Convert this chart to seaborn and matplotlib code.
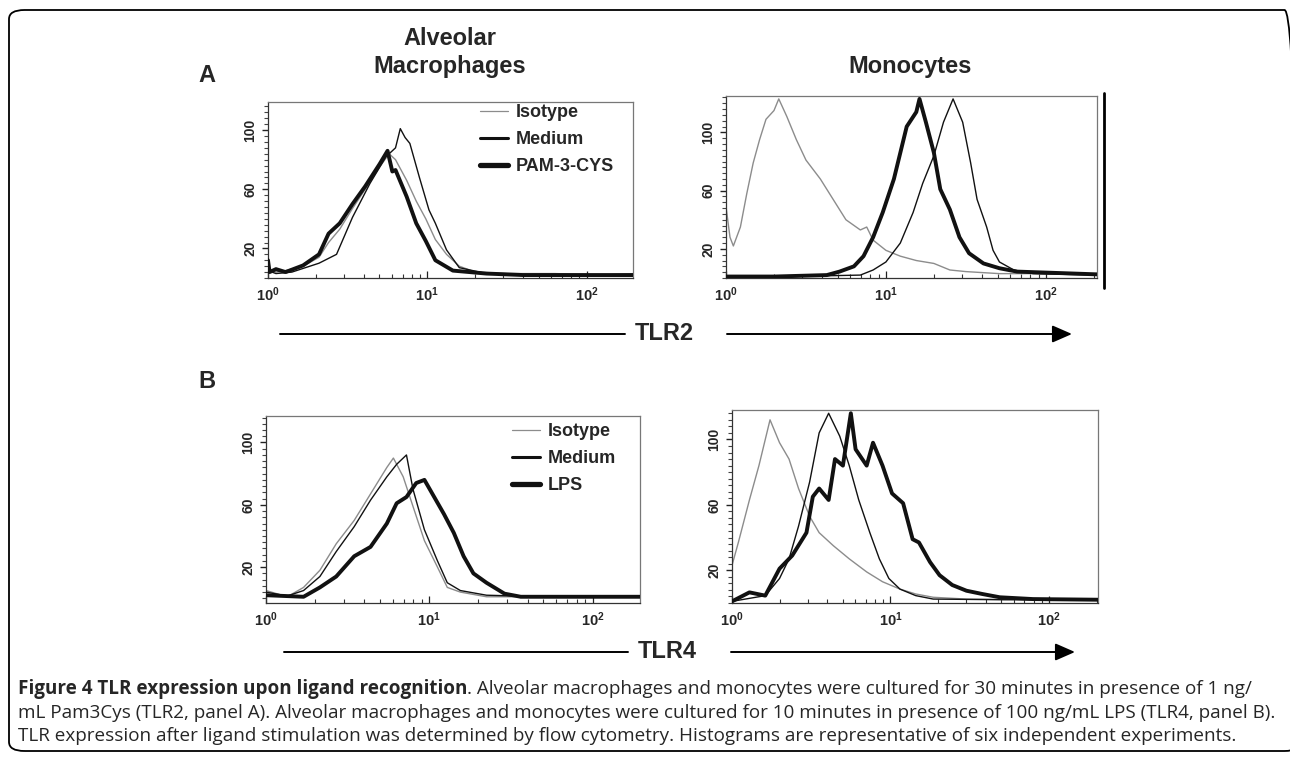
import numpy as np
import matplotlib
matplotlib.use("Agg")
import matplotlib.pyplot as plt
import seaborn as sns
from matplotlib.lines import Line2D
from matplotlib.patches import FancyBboxPatch, FancyArrowPatch, ArrowStyle
from matplotlib.ticker import FixedLocator, MultipleLocator, LogLocator, NullFormatter, FixedFormatter

# ---------------- data (log10 fluorescence, % of max counts) ----------------
# Panel A, alveolar macrophages (TLR2)
a_am_iso_logx = [0.00, 0.05, 0.11, 0.22, 0.32, 0.38, 0.45, 0.53, 0.61, 0.70, 0.76, 0.80, 0.87, 0.93, 0.99, 1.05, 1.12, 1.20, 1.30, 1.50, 1.80, 2.10, 2.30]
a_am_iso_val  = [6, 4, 5, 8, 14, 24, 33, 47, 60, 75, 84, 80, 66, 52, 40, 26, 16, 8, 4, 3, 3, 2, 3]
a_am_med_logx = [0.00, 0.05, 0.15, 0.32, 0.43, 0.53, 0.64, 0.74, 0.80, 0.83, 0.86, 0.89, 0.95, 1.01, 1.05, 1.12, 1.20, 1.37, 1.60, 1.90, 2.30]
a_am_med_val  = [5, 3, 4, 10, 16, 41, 64, 82, 88, 101, 95, 91, 68, 46, 37, 19, 7, 3, 2, 2, 2]
a_am_pam_logx = [0.00, 0.01, 0.05, 0.11, 0.22, 0.32, 0.38, 0.45, 0.53, 0.61, 0.70, 0.75, 0.78, 0.80, 0.87, 0.93, 0.99, 1.05, 1.16, 1.37, 1.60, 1.90, 2.30]
a_am_pam_val  = [12, 4, 6, 4, 8.5, 16, 30, 37, 50, 62, 77, 86, 72, 73, 55, 37, 25, 12, 5, 3, 2, 2, 2]

# Panel A, monocytes (TLR2)
a_mo_iso_logx = [0.00, 0.025, 0.046, 0.09, 0.13, 0.17, 0.21, 0.25, 0.30, 0.33, 0.38, 0.44, 0.50, 0.59, 0.67, 0.75, 0.84, 0.88, 0.92, 1.00, 1.09, 1.19, 1.30, 1.40, 1.50, 1.71, 2.00, 2.32]
a_mo_iso_val  = [49, 28, 22, 35, 58, 79, 95, 109, 115, 123, 111, 95, 81, 68, 54, 40, 33, 35, 26, 19, 15, 12, 10, 5.5, 4.4, 3, 3, 3]
a_mo_med_logx = [0.00, 0.40, 0.84, 0.92, 1.00, 1.09, 1.17, 1.23, 1.30, 1.36, 1.42, 1.48, 1.53, 1.57, 1.63, 1.67, 1.71, 1.80, 1.92, 2.32]
a_mo_med_val  = [1, 1, 2, 5.5, 11, 24, 45, 65, 84, 107, 123, 107, 79, 54, 35, 19, 11, 5.5, 3, 2]
a_mo_pam_logx = [0.00, 0.30, 0.63, 0.71, 0.80, 0.86, 0.92, 0.98, 1.05, 1.09, 1.13, 1.19, 1.21, 1.25, 1.30, 1.34, 1.40, 1.46, 1.52, 1.61, 1.71, 1.82, 2.32]
a_mo_pam_val  = [1, 1, 2, 4.4, 8, 15, 28, 45, 68, 86, 104, 114, 123, 107, 86, 61, 47, 28, 17, 10, 6.7, 4.4, 2.5]

# Panel B, alveolar macrophages (TLR4)
b_am_iso_logx = [0.00, 0.13, 0.23, 0.33, 0.43, 0.54, 0.64, 0.74, 0.78, 0.84, 0.90, 0.97, 1.05, 1.11, 1.19, 1.35, 1.70, 2.29]
b_am_iso_val  = [5, 1, 7, 18, 35, 50, 67, 84, 90, 78, 59, 37, 20, 7, 4, 1, 1, 1]
b_am_med_logx = [0.00, 0.13, 0.23, 0.33, 0.43, 0.54, 0.64, 0.74, 0.80, 0.86, 0.90, 0.97, 1.05, 1.11, 1.19, 1.35, 1.70, 2.29]
b_am_med_val  = [4, 1.5, 5, 14, 30, 46, 63, 78, 86, 92, 70, 44, 24, 10, 5, 2, 1, 1]
b_am_lps_logx = [0.00, 0.23, 0.33, 0.43, 0.54, 0.64, 0.74, 0.80, 0.86, 0.92, 0.97, 1.03, 1.09, 1.15, 1.21, 1.27, 1.35, 1.46, 1.56, 1.90, 2.29]
b_am_lps_val  = [2, 1, 7, 14, 27, 33, 48, 61, 65, 74, 76, 65, 54, 42, 27, 16, 10, 3, 1, 1, 1]

# Panel B, monocytes (TLR4)
b_mo_iso_logx = [0.00, 0.04, 0.11, 0.17, 0.21, 0.24, 0.30, 0.36, 0.42, 0.49, 0.55, 0.64, 0.74, 0.85, 0.95, 1.06, 1.16, 1.27, 1.48, 1.90, 2.31]
b_mo_iso_val  = [23, 37, 63, 84, 100, 112, 98, 88, 70, 53, 43, 35, 27, 19, 13, 8.5, 5.5, 3.5, 2.4, 2, 2]
b_mo_med_logx = [0.00, 0.21, 0.30, 0.36, 0.42, 0.49, 0.55, 0.61, 0.68, 0.74, 0.80, 0.87, 0.93, 0.99, 1.06, 1.16, 1.27, 1.70, 2.31]
b_mo_med_val  = [1, 4.5, 15, 27, 47, 74, 104, 116, 102, 84, 63, 43, 27, 15, 8.5, 4.5, 2.4, 2, 2]
b_mo_lps_logx = [0.00, 0.11, 0.21, 0.30, 0.38, 0.47, 0.51, 0.55, 0.61, 0.65, 0.70, 0.75, 0.78, 0.85, 0.89, 0.95, 1.01, 1.08, 1.14, 1.18, 1.25, 1.31, 1.39, 1.48, 1.58, 1.69, 1.90, 2.31]
b_mo_lps_val  = [1, 6.5, 4.5, 21, 29, 43, 65, 70, 63, 88, 84, 116, 94, 84, 98, 84, 67, 61, 39, 37, 25, 17, 11, 7.5, 5.5, 3.5, 2.4, 2]

panel_titles = ["Alveolar\nMacrophages", "Monocytes"]
legend_a = ["Isotype", "Medium", "PAM-3-CYS"]
legend_b = ["Isotype", "Medium", "LPS"]
y_tick_values = [20, 60, 100]
x_tick_values = [1, 10, 100]
x_tick_labels = [r"$\mathbf{10^{0}}$", r"$\mathbf{10^{1}}$", r"$\mathbf{10^{2}}$"]
caption_bold = "Figure 4 TLR expression upon ligand recognition"
caption_line1 = ". Alveolar macrophages and monocytes were cultured for 30 minutes in presence of 1 ng/"
caption_line2 = "mL Pam3Cys (TLR2, panel A). Alveolar macrophages and monocytes were cultured for 10 minutes in presence of 100 ng/mL LPS (TLR4, panel B)."
caption_line3 = "TLR expression after ligand stimulation was determined by flow cytometry. Histograms are representative of six independent experiments."

# ---------------- style ----------------
sns.set_theme(style="white")
plt.rcParams["font.family"] = ["Liberation Sans", "DejaVu Sans"]
plt.rcParams["mathtext.fontset"] = "custom"
plt.rcParams["mathtext.rm"] = "Liberation Sans"
plt.rcParams["mathtext.bf"] = "Liberation Sans:bold"
plt.rcParams["xtick.bottom"] = True
plt.rcParams["ytick.left"] = True

W, H = 1290, 759
fig = plt.figure(figsize=(W / 100, H / 100), dpi=100)
fig.patch.set_facecolor("white")

def fx(x):
    return x / W

def fy(y):
    return 1 - y / H

def axes_at(x0, y0, x1, y1):
    return fig.add_axes([fx(x0), fy(y1), fx(x1 - x0), (y1 - y0) / H])

ISO = "#8c8c8c"
BLK = "#111111"

def style_axes(ax, xmax_log, ylim):
    ax.set_xscale("log")
    ax.set_xlim(1, 10 ** xmax_log)
    ax.set_ylim(*ylim)
    for s in ax.spines.values():
        s.set_color("#777777")
        s.set_linewidth(0.9)
    ax.spines["left"].set_color("#333333")
    ax.spines["bottom"].set_color("#333333")
    ax.xaxis.set_major_locator(FixedLocator(x_tick_values))
    ax.xaxis.set_major_formatter(FixedFormatter(x_tick_labels))
    ax.xaxis.set_minor_locator(LogLocator(base=10, subs=np.arange(2, 10)))
    ax.xaxis.set_minor_formatter(NullFormatter())
    ax.yaxis.set_major_locator(FixedLocator(y_tick_values))
    ax.yaxis.set_minor_locator(MultipleLocator(4))
    ax.tick_params(axis="x", which="major", direction="in", length=5, width=0.9,
                   color="#222222", labelsize=10.5, pad=5, bottom=True)
    ax.tick_params(axis="x", which="minor", direction="in", length=3, width=0.8,
                   color="#333333", bottom=True)
    ax.tick_params(axis="y", which="major", direction="out", length=4.5, width=1.0,
                   color="#222222", labelsize=10, pad=3, left=True)
    ax.tick_params(axis="y", which="minor", direction="out", length=3, width=0.8,
                   color="#444444", left=True)
    for lab in ax.get_yticklabels():
        lab.set_rotation(90)
        lab.set_va("center")
        lab.set_fontweight("bold")
    for lab in ax.get_xticklabels():
        lab.set_fontweight("bold")
    ax.set_xlabel("")
    ax.set_ylabel("")
    ax.grid(False)

def draw(ax, logx, val, color, lw, z):
    sns.lineplot(x=10 ** np.asarray(logx, dtype=float), y=np.asarray(val, dtype=float),
                 ax=ax, color=color, linewidth=lw, zorder=z, estimator=None, sort=True)

# Panel A
ax_a1 = axes_at(268, 102, 633, 278)
draw(ax_a1, a_am_iso_logx, a_am_iso_val, ISO, 1.0, 2)
draw(ax_a1, a_am_med_logx, a_am_med_val, BLK, 1.0, 3)
draw(ax_a1, a_am_pam_logx, a_am_pam_val, BLK, 2.8, 4)
style_axes(ax_a1, 2.29, (0, 119))

ax_a2 = axes_at(726, 96, 1097, 278)
draw(ax_a2, a_mo_iso_logx, a_mo_iso_val, ISO, 1.0, 2)
draw(ax_a2, a_mo_med_logx, a_mo_med_val, BLK, 1.0, 3)
draw(ax_a2, a_mo_pam_logx, a_mo_pam_val, BLK, 2.8, 4)
style_axes(ax_a2, 2.32, (0, 125))

# Panel B
ax_b1 = axes_at(266, 416, 640, 603)
draw(ax_b1, b_am_iso_logx, b_am_iso_val, ISO, 1.0, 2)
draw(ax_b1, b_am_med_logx, b_am_med_val, BLK, 1.0, 3)
draw(ax_b1, b_am_lps_logx, b_am_lps_val, BLK, 2.8, 4)
style_axes(ax_b1, 2.29, (-3, 117))

ax_b2 = axes_at(732, 410, 1098, 603)
draw(ax_b2, b_mo_iso_logx, b_mo_iso_val, ISO, 1.0, 2)
draw(ax_b2, b_mo_med_logx, b_mo_med_val, BLK, 1.0, 3)
draw(ax_b2, b_mo_lps_logx, b_mo_lps_val, BLK, 2.8, 4)
style_axes(ax_b2, 2.31, (0, 118))

# Legends
def make_legend(ax, labels, x_frac, y_frac):
    handles = [Line2D([], [], color=ISO, lw=0.9),
               Line2D([], [], color=BLK, lw=2.2),
               Line2D([], [], color=BLK, lw=3.8)]
    return ax.legend(handles, labels, loc="upper left", bbox_to_anchor=(x_frac, y_frac),
                     frameon=False, handlelength=1.55, handletextpad=0.45,
                     labelspacing=0.55, borderpad=0, borderaxespad=0,
                     prop={"family": "Liberation Sans", "weight": "bold", "size": 13})

make_legend(ax_a1, legend_a, (480 - 268) / 365, 1 - (104 - 102) / 176)
make_legend(ax_b1, legend_b, (512 - 266) / 374, 1 - (423 - 416) / 187)

# Titles and panel letters
title_lines = panel_titles[0].split("\n")
fig.text(fx(450), fy(45), title_lines[0], ha="center", va="baseline", fontsize=17, fontweight="bold")
fig.text(fx(450), fy(73), title_lines[1], ha="center", va="baseline", fontsize=17, fontweight="bold")
fig.text(fx(910), fy(73), panel_titles[1], ha="center", va="baseline", fontsize=17, fontweight="bold")
fig.text(fx(207), fy(75), "A", ha="center", va="center", fontsize=17, fontweight="bold")
fig.text(fx(207), fy(381), "B", ha="center", va="center", fontsize=17, fontweight="bold")

# Axis arrows
def axis_arrow(label, y, x0, x1, xt0, xt1):
    fig.add_artist(Line2D([fx(x0), fx(x1)], [fy(y), fy(y)], color="black", lw=1.4,
                          transform=fig.transFigure))
    fig.text(fx(x1 + 10), fy(y), label, ha="left", va="center", fontsize=17, fontweight="bold")
    arr = FancyArrowPatch((fx(xt0), fy(y)), (fx(xt1), fy(y)), transform=fig.transFigure,
                          arrowstyle=ArrowStyle("-|>", head_length=0.8, head_width=0.35),
                          mutation_scale=15, color="black", lw=1.4, shrinkA=0, shrinkB=0)
    fig.add_artist(arr)

axis_arrow("TLR2", 334, 280, 625, 727, 1072)
axis_arrow("TLR4", 652, 284, 628, 731, 1075)

# Right vertical bar next to monocyte panel A
fig.add_artist(Line2D([fx(1104), fx(1104)], [fy(93), fy(288)], color="black", lw=2.0,
                      transform=fig.transFigure))

# Rounded frame
frame = FancyBboxPatch((fx(9), fy(751)), fx(1300 - 9), (751 - 10) / H,
                       boxstyle="round,pad=0,rounding_size=0.012",
                       transform=fig.transFigure, fill=False, edgecolor="black", lw=1.3,
                       clip_on=False)
fig.add_artist(frame)

# Caption, fitted to reference line width
cap_font = "Open Sans"
renderer = fig.canvas.get_renderer()
probe = fig.text(0, 0, caption_line2, fontsize=12, family=cap_font)
w12 = probe.get_window_extent(renderer).width
probe.remove()
cap_size = 12 * (1272 - 18) / w12

t_bold = fig.text(fx(18), fy(689), caption_bold, ha="left", va="center",
                  fontsize=cap_size, family=cap_font, fontweight="bold")
fig.canvas.draw()
bb = t_bold.get_window_extent(renderer)
fig.text(bb.x1 / W, fy(689), caption_line1, ha="left", va="center",
         fontsize=cap_size, family=cap_font)
fig.text(fx(18), fy(713), caption_line2, ha="left", va="center", fontsize=cap_size, family=cap_font)
fig.text(fx(18), fy(736), caption_line3, ha="left", va="center", fontsize=cap_size, family=cap_font)

fig.savefig("out.png", dpi=100, facecolor="white")
